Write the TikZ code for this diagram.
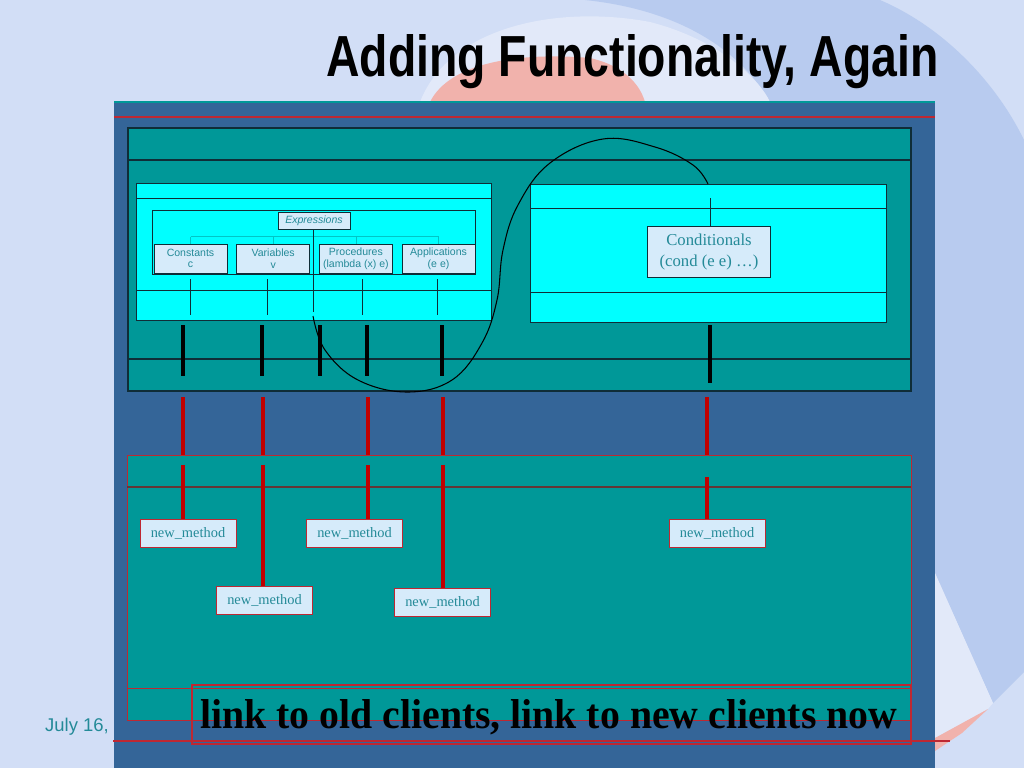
\documentclass[tikz,border=0pt]{standalone}
\usepackage{fontspec}
\setmainfont{Liberation Serif}
\setsansfont{Liberation Sans}
\usepackage{graphicx}
\usetikzlibrary{positioning, calc}

\definecolor{slidebg}{RGB}{210,222,246}
\definecolor{swblue}{RGB}{184,203,239}
\definecolor{swwhite}{RGB}{226,233,249}
\definecolor{swpink}{RGB}{241,178,172}
\definecolor{panel}{RGB}{52,101,152}
\definecolor{tealbox}{RGB}{0,152,152}
\definecolor{cyanbox}{RGB}{0,255,255}
\definecolor{lightbox}{RGB}{214,235,250}
\definecolor{txtteal}{RGB}{36,138,152}
\definecolor{darkline}{RGB}{15,45,55}
\definecolor{barred}{RGB}{192,0,0}
\definecolor{thinred}{RGB}{190,40,50}

\begin{document}
\begin{tikzpicture}[
  x=0.02cm, y=-0.02cm,
  sub/.style={draw=darkline, fill=lightbox, align=center, inner sep=0pt,
              font=\sffamily\fontsize{6}{6.6}\selectfont, text=txtteal,
              minimum width=1.46cm, minimum height=0.58cm},
  root/.style={draw=darkline, fill=lightbox, inner sep=0pt,
               font=\sffamily\itshape\fontsize{6}{7}\selectfont, text=txtteal,
               minimum width=1.44cm, minimum height=0.34cm},
  cond/.style={draw=darkline, fill=lightbox, align=center, inner sep=0pt,
               font=\fontsize{9.5}{11.5}\selectfont, text=txtteal,
               minimum width=2.46cm, minimum height=1.02cm},
  nm/.style={draw=thinred, fill=lightbox, inner sep=0pt,
             font=\fontsize{8.2}{9}\selectfont, text=txtteal,
             minimum width=1.92cm, minimum height=0.56cm},
  tree/.style={draw=teal!45!cyan, line width=0.4pt},
  stem/.style={draw=darkline, line width=0.5pt},
  blkbar/.style={draw=black, line width=2.2pt},
  redbar/.style={draw=barred, line width=2.2pt},
]
\useasboundingbox (0,0) rectangle (1024,768);
\fill[slidebg] (0,0) rectangle (1024,768);

% background swooshes
\fill[swblue] (585,0) -- (880,0) .. controls (950,30) and (1000,90) .. (1024,140)
  -- (1024,672) -- (993,703) -- (935,573) -- (935,102) -- (770,102)
  .. controls (740,50) and (680,10) .. (585,0) -- cycle;
\fill[swwhite] (420,102) .. controls (450,25) and (560,5) .. (650,22)
  .. controls (720,40) and (760,80) .. (770,102) -- cycle;
\fill[swpink] (430,102) .. controls (450,62) and (520,52) .. (590,58)
  .. controls (625,66) and (640,85) .. (645,102) -- cycle;
\fill[swwhite] (935,573) -- (993,703) -- (988,709) -- (935,738) -- cycle;
\fill[swpink] (935,738) -- (988,709) -- (962,733) -- (935,751) -- cycle;

% title
\node[anchor=base west, inner sep=0pt] (title) at (326,76)
  {\resizebox{12.24cm}{0.84cm}{\sffamily\bfseries Adding Functionality, Again}};
\node[anchor=base, inner sep=0pt, font=\sffamily\fontsize{10.5}{12}\selectfont,
      text=txtteal] (date) at (77,731) {July 16,};

% panel
\fill[panel] (114,102) rectangle (935,768);
\draw[tealbox, line width=0.8pt] (114,102) -- (935,102);
\draw[thinred, line width=0.6pt] (114,117) -- (935,117);

% ===================== upper part =====================
\draw[darkline, fill=tealbox, line width=0.6pt] (128,128) rectangle (911,391);
\draw[darkline, line width=0.6pt] (128,160) -- (911,160);
\draw[darkline, line width=0.6pt] (128,359) -- (911,359);

\draw[darkline, fill=cyanbox, line width=0.5pt] (136,183) rectangle (491,320);
\draw[darkline, line width=0.5pt] (136,198) -- (491,198);
\draw[darkline, line width=0.5pt] (136,290) -- (491,290);
\draw[darkline, line width=0.5pt] (152,210) rectangle (475,274);

\draw[darkline, fill=cyanbox, line width=0.5pt] (530,184) rectangle (886,322);
\draw[darkline, line width=0.5pt] (530,208) -- (886,208);
\draw[darkline, line width=0.5pt] (530,292) -- (886,292);

\node[root] (expr) at (314,220.5) {Expressions};
\node[sub] (cst) at (190.5,258.5) {Constants\\c};
\node[sub, right=0.18cm of cst] (var) {Variables\\v};
\node[sub, right=0.18cm of var] (prc) {Procedures\\(lambda (x) e)};
\node[sub, right=0.18cm of prc] (app) {Applications\\(e e)};
\node[cond] (cnd) at (709,252) {Conditionals\\(cond (e e) \ldots)};

\draw[tree] ($(cst.north)+(0,-7)$) -- ($(app.north)+(0,-7)$);
\foreach \c in {cst,var,prc,app} \draw[tree] (\c.north) -- ++(0,-7);
\draw[stem] (expr.south -| 313,0) -- (313,312);
\draw[stem] (cnd.north -| 710,0) -- (710,198);
\foreach \x in {190,267,362,437} \draw[stem] (\x,279) -- (\x,315);

\foreach \x in {183,262,320,367,442} \draw[blkbar] (\x,325) -- (\x,376);
\draw[blkbar] (710,325) -- (710,383);

% the loop round the old part
\draw[black, line width=0.6pt] plot[smooth, tension=0.65] coordinates {
  (313,316) (325,350) (358,380) (407,392) (452,380) (482,343) (497,300)
  (503,250) (518,205) (550,163) (603,139) (655,147) (693,165) (708,184)};

% ===================== lower part =====================
\draw[thinred, fill=tealbox, line width=0.5pt] (127,455) rectangle (911,720);
\draw[gray!70!red!60!black, line width=0.6pt] (127,487) -- (911,487);
\draw[thinred, line width=0.5pt] (127,688) -- (911,688);

\node[nm] (nm1) at (188,533) {new\_method};
\node[nm] (nm2) at (264.5,600) {new\_method};
\node[nm] (nm3) at (354.5,533) {new\_method};
\node[nm] (nm4) at (442.5,602) {new\_method};
\node[nm] (nm5) at (717,533) {new\_method};

\foreach \x in {183,263,368,443,707} \draw[redbar] (\x,397) -- (\x,455);
\foreach \x/\n in {183/nm1,263/nm2,368/nm3,443/nm4} {
  \coordinate (r\n) at (\x,465);
  \draw[redbar] (r\n) -- (r\n |- \n.north);
}
\coordinate (rnm5) at (707,477);
\draw[redbar] (rnm5) -- (rnm5 |- nm5.north);

% caption
\draw[thinred, line width=0.6pt] (113,741) -- (950,741);
\draw[thinred, line width=0.6pt] (192,685) rectangle (911,744);
\node[anchor=base west, inner sep=0pt] (cap) at (200,728)
  {\resizebox{13.94cm}{0.58cm}{\bfseries link to old clients, link to new clients now}};
\end{tikzpicture}
\end{document}
